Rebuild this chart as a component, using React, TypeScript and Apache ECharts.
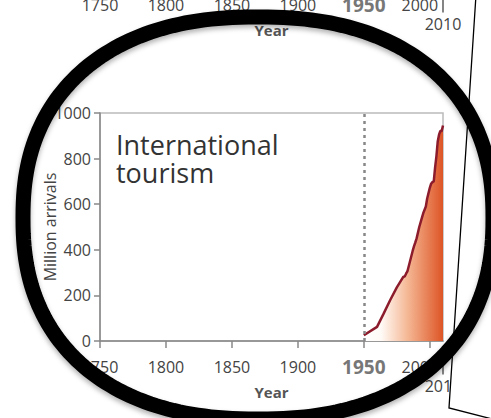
import React, { useEffect, useRef } from "react";
import * as echarts from "echarts";

const years = [1950, 1960, 1965, 1970, 1975, 1980, 1981, 1982, 1983, 1985, 1987, 1988, 1989, 1990, 1992, 1994, 1995, 1997, 1998, 2000, 2001, 2002, 2003, 2004, 2005, 2006, 2007, 2008, 2009, 2010];
const arrivals = [25, 62, 120, 180, 235, 282, 283, 295, 305, 350, 395, 415, 432, 450, 500, 540, 560, 590, 625, 672, 690, 697, 700, 760, 810, 875, 905, 922, 920, 945];
const yTicks = [0, 200, 400, 600, 800, 1000];
const xMin = 1750;
const xMax = 2010;
const xStep = 50;
const markYear = 1950;

const FONT = '"Open Sans", "Noto Sans", sans-serif';

function ringPoints(cx: number, cy: number, a: number, b: number, n: number, count: number) {
  const pts: number[][] = [];
  for (let k = 0; k < count; k++) {
    const t = (k / count) * Math.PI * 2;
    const c = Math.cos(t);
    const s = Math.sin(t);
    const x = cx + a * Math.sign(c) * Math.pow(Math.abs(c), 2 / n);
    const y = cy + b * Math.sign(s) * Math.pow(Math.abs(s), 2 / n);
    pts.push([x, y]);
  }
  return pts;
}

const rich = {
  norm: { fontFamily: FONT, fontSize: 16, color: "#444", lineHeight: 20 },
  bold: { fontFamily: FONT, fontSize: 19, fontWeight: "bold", color: "#777", lineHeight: 20 },
  shift: { fontFamily: FONT, fontSize: 16, color: "#444", lineHeight: 20, padding: [0, 20, 0, 0] },
  bar: { width: 1.6, height: 15, backgroundColor: "#666", lineHeight: 20, fontSize: 1 },
  low: { fontFamily: FONT, fontSize: 16, color: "#444", lineHeight: 18 },
};

function xAxisConfig(gridIndex: number, showLine: boolean) {
  return {
    type: "value",
    gridIndex,
    position: "bottom",
    min: xMin,
    max: xMax,
    interval: xStep,
    name: "Year",
    nameLocation: "middle",
    nameGap: 43,
    nameMoveOverlap: false,
    nameTextStyle: { fontFamily: FONT, fontSize: 15, fontWeight: "bold", color: "#555" },
    axisLine: { show: showLine, lineStyle: { color: "#888", width: 1.5 } },
    axisTick: { show: showLine, length: 7, lineStyle: { color: "#888", width: 1.5 } },
    splitLine: { show: false },
    axisLabel: {
      margin: 16,
      hideOverlap: false,
      showMinLabel: true,
      showMaxLabel: false,
      formatter: (v: number) => {
        if (v === xMax) return "";
        if (v === markYear) return "{bold|" + v + "}";
        if (v === 2000) return "{shift|" + v + "}";
        return "{norm|" + v + "}";
      },
      rich,
    },
  };
}

function endAxisConfig(gridIndex: number) {
  return {
    type: "value",
    gridIndex,
    position: "bottom",
    offset: 0,
    min: xMin,
    max: xMax,
    interval: xMax - xMin,
    axisLine: { show: false },
    axisTick: { show: false },
    splitLine: { show: false },
    axisLabel: {
      margin: 16,
      hideOverlap: false,
      showMinLabel: true,
      showMaxLabel: true,
      formatter: (v: number) => (v === xMax ? "{bar| }\n{low|" + v + "}" : ""),
      rich,
    },
  };
}

export default function App() {
  const ref = useRef<HTMLDivElement>(null);
  useEffect(() => {
    if (!ref.current) return;
    const chart = echarts.init(ref.current, null, { renderer: "svg" });
    const data = years.map((y, i) => [y, arrivals[i]]);
    chart.setOption({
      animation: false,
      textStyle: { fontFamily: FONT },
      title: {
        text: "International\ntourism",
        left: 111,
        top: 125,
        textStyle: { fontFamily: FONT, fontSize: 27, fontWeight: "normal", color: "#333", lineHeight: 28 },
      },
      grid: [
        { left: 100, right: 48, top: 113, bottom: 77, show: true, borderColor: "#bbb", borderWidth: 1.5, outerBoundsMode: "none", containLabel: false },
        { left: 100, right: 48, top: -249, height: 228, show: false, outerBoundsMode: "none", containLabel: false },
      ],
      xAxis: [xAxisConfig(0, true), xAxisConfig(1, false), endAxisConfig(0), endAxisConfig(1)],
      yAxis: [
        {
          type: "value",
          gridIndex: 0,
          min: yTicks[0],
          max: yTicks[yTicks.length - 1],
          interval: yTicks[1] - yTicks[0],
          name: "Million arrivals",
          nameLocation: "middle",
          nameGap: 42,
          nameMoveOverlap: false,
          nameTextStyle: { fontFamily: FONT, fontSize: 16, color: "#444" },
          axisLine: { show: true, lineStyle: { color: "#888", width: 1.5 } },
          axisTick: { show: true, length: 6, lineStyle: { color: "#888", width: 1.5 } },
          splitLine: { show: false },
          axisLabel: { fontFamily: FONT, fontSize: 16, color: "#444", margin: 9, hideOverlap: false, formatter: (v: number) => String(v) },
        },
        { type: "value", gridIndex: 1, min: 0, max: 1000, show: false },
      ],
      series: [
        {
          type: "line",
          xAxisIndex: 0,
          yAxisIndex: 0,
          data,
          symbol: "none",
          lineStyle: { color: "#8c1c2c", width: 2.5 },
          areaStyle: {
            color: new echarts.graphic.LinearGradient(0, 0, 1, 0, [
              { offset: 0, color: "#ffffff" },
              { offset: 0.22, color: "#fffaf6" },
              { offset: 0.55, color: "#f5b895" },
              { offset: 1, color: "#dd5526" },
            ]),
            opacity: 1,
          },
          markLine: {
            silent: true,
            symbol: "none",
            label: { show: false },
            lineStyle: { color: "#888", width: 2.5, type: [3, 4] },
            data: [{ xAxis: markYear }],
          },
          z: 3,
        },
      ],
      graphic: [
        {
          type: "polygon",
          z: 100,
          shape: { points: [[476, -5], [449, 408], [500, 421], [500, -5]] },
          style: { fill: "#fff", stroke: "#000", lineWidth: 1.3 },
        },
        {
          type: "polygon",
          z: 110,
          shape: { points: ringPoints(258, 218, 235, 201, 2.3, 240) },
          style: {
            fill: "transparent",
            stroke: "#000",
            lineWidth: 15,
            shadowBlur: 5,
            shadowColor: "rgba(0,0,0,0.3)",
            shadowOffsetY: 3,
          },
        },
      ],
    });
    return () => chart.dispose();
  }, []);
  return <div ref={ref} style={{ position: "fixed", left: 0, top: 0, width: 491, height: 418, background: "#fff" }} />;
}
